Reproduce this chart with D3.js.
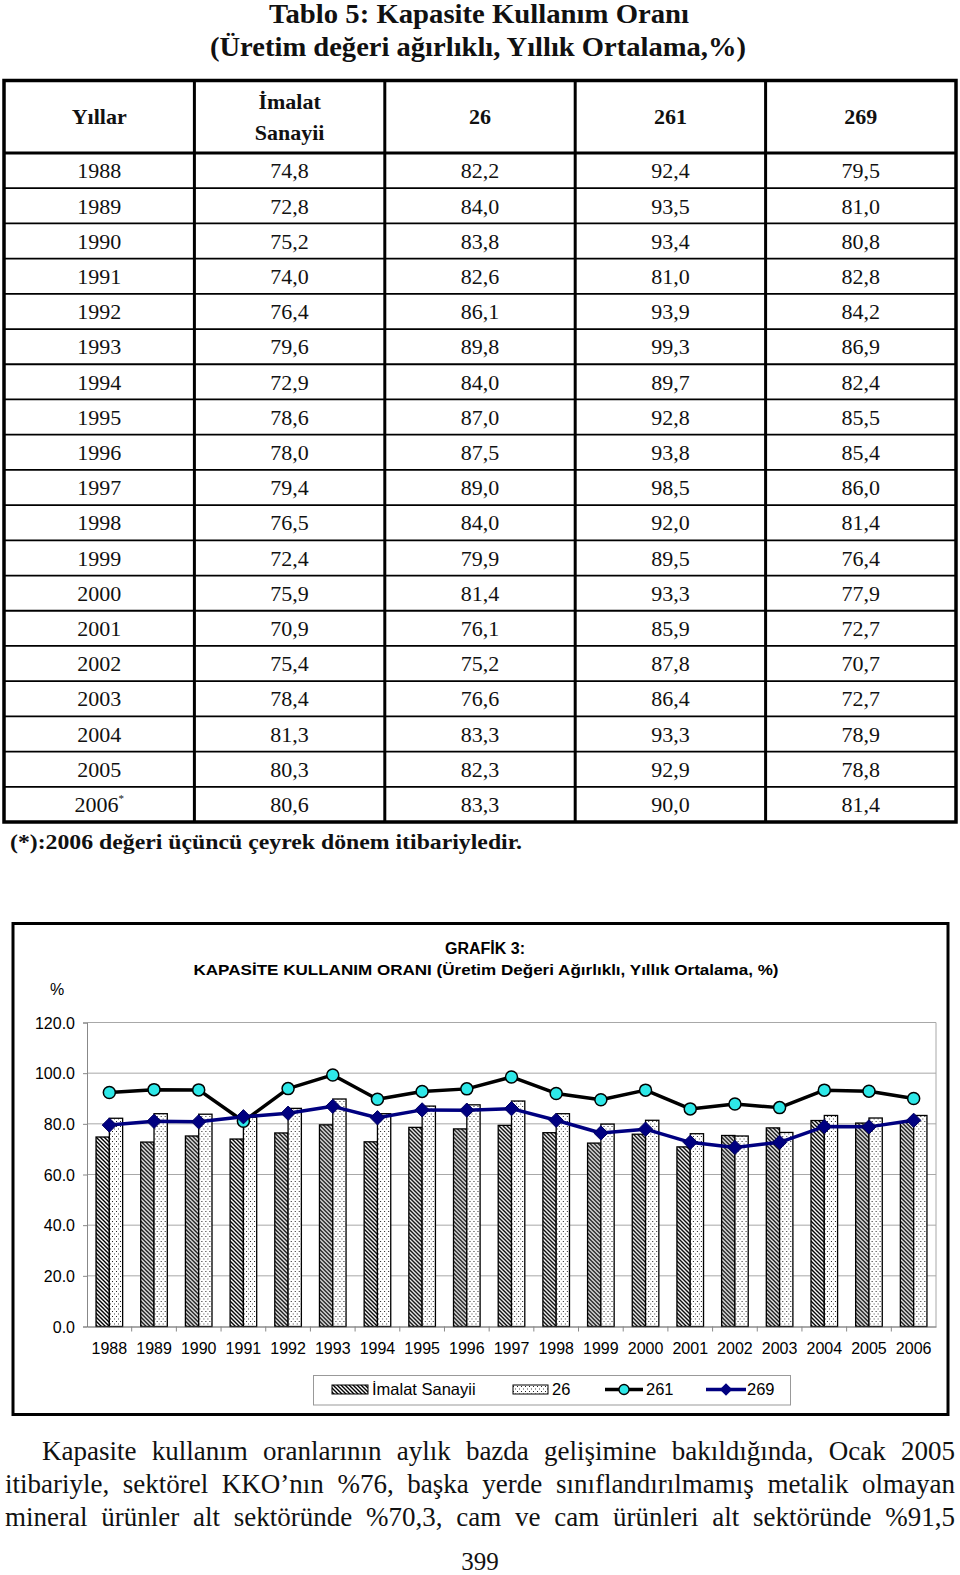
<!DOCTYPE html>
<html lang="tr">
<head>
<meta charset="UTF-8">
<title>Tablo 5: Kapasite Kullanım Oranı</title>
<script src="https://d3js.org/d3.v7.min.js"></script>
<style>
    body { margin: 0; background: #fff; }
    svg { display: block; }
    .serif { font-family: "Liberation Serif", "Times New Roman", serif; fill: #111; }
    .sans { font-family: "Liberation Sans", Arial, sans-serif; fill: #000; }
</style>
</head>
<body>
<svg id="page" width="960" height="1575"></svg>
<script>
const years = ["1988","1989","1990","1991","1992","1993","1994","1995","1996","1997",
               "1998","1999","2000","2001","2002","2003","2004","2005","2006"];
const imalat = [74.8,72.8,75.2,74.0,76.4,79.6,72.9,78.6,78.0,79.4,76.5,72.4,75.9,70.9,75.4,78.4,81.3,80.3,80.6];
const s26    = [82.2,84.0,83.8,82.6,86.1,89.8,84.0,87.0,87.5,89.0,84.0,79.9,81.4,76.1,75.2,76.6,83.3,82.3,83.3];
const s261   = [92.4,93.5,93.4,81.0,93.9,99.3,89.7,92.8,93.8,98.5,92.0,89.5,93.3,85.9,87.8,86.4,93.3,92.9,90.0];
const s269   = [79.5,81.0,80.8,82.8,84.2,86.9,82.4,85.5,85.4,86.0,81.4,76.4,77.9,72.7,70.7,72.7,78.9,78.8,81.4];
const colHeads = ["Yıllar", "İmalat\nSanayii", "26", "261", "269"];
const yTicks = [0, 20, 40, 60, 80, 100, 120];
const legendItems = ["İmalat Sanayii", "26", "261", "269"];

const paragraph = [
    "Kapasite kullanım oranlarının aylık bazda gelişimine bakıldığında, Ocak 2005",
    "itibariyle, sektörel KKO’nın %76, başka yerde sınıflandırılmamış metalik olmayan",
    "mineral ürünler alt sektöründe %70,3, cam ve cam ürünleri alt sektöründe %91,5"
];

const svg = d3.select("#page");
const comma = v => d3.format(".1f")(v).replace(".", ",");

// ---------- patterns ----------
const defs = svg.append("defs");
const hatch = defs.append("pattern").attr("id", "hatch")
    .attr("patternUnits", "userSpaceOnUse").attr("width", 4).attr("height", 4);
hatch.append("rect").attr("width", 4).attr("height", 4).attr("fill", "#fff");
hatch.append("path").attr("d", "M-1,-1L5,5M-1,3L1,5M3,-1L5,1")
    .attr("stroke", "#000").attr("stroke-width", 1.4);
const dots = defs.append("pattern").attr("id", "dots")
    .attr("patternUnits", "userSpaceOnUse").attr("width", 4).attr("height", 5);
dots.append("rect").attr("width", 4).attr("height", 5).attr("fill", "#fff");
dots.append("rect").attr("x", 1).attr("y", 1).attr("width", 1).attr("height", 1).attr("fill", "#222");
dots.append("rect").attr("x", 3).attr("y", 3.5).attr("width", 1).attr("height", 1).attr("fill", "#444");

// ---------- table title ----------
svg.append("text").attr("class", "serif").attr("x", 479).attr("y", 23)
    .attr("text-anchor", "middle").attr("font-size", 27).attr("font-weight", "bold")
    .attr("textLength", 420).attr("lengthAdjust", "spacingAndGlyphs")
    .text("Tablo 5: Kapasite Kullanım Oranı");
svg.append("text").attr("class", "serif").attr("x", 478).attr("y", 56)
    .attr("text-anchor", "middle").attr("font-size", 27).attr("font-weight", "bold")
    .attr("textLength", 536).attr("lengthAdjust", "spacingAndGlyphs")
    .text("(Üretim değeri ağırlıklı, Yıllık Ortalama,%)");

// ---------- table ----------
const tLeft = 4, tRight = 956, tTop = 80.5, headBottom = 153, tBottom = 822;
const colX = d3.scaleBand().domain(d3.range(5)).range([tLeft, tRight]);
const rowY = d3.scaleBand().domain(d3.range(years.length)).range([headBottom, tBottom]);
const table = svg.append("g");

// row lines (thin)
table.selectAll(".rowline").data(d3.range(1, years.length)).join("line")
    .attr("x1", tLeft).attr("x2", tRight)
    .attr("y1", i => rowY(i)).attr("y2", i => rowY(i))
    .attr("stroke", "#000").attr("stroke-width", 1.8);
// header bottom
table.append("line").attr("x1", tLeft).attr("x2", tRight)
    .attr("y1", headBottom).attr("y2", headBottom)
    .attr("stroke", "#000").attr("stroke-width", 3);
// column lines
table.selectAll(".colline").data(d3.range(1, 5)).join("line")
    .attr("x1", i => colX(i)).attr("x2", i => colX(i))
    .attr("y1", tTop).attr("y2", tBottom)
    .attr("stroke", "#000").attr("stroke-width", 3);
table.append("rect").attr("x", tLeft).attr("y", tTop)
    .attr("width", tRight - tLeft).attr("height", tBottom - tTop)
    .attr("fill", "none").attr("stroke", "#000").attr("stroke-width", 3.5);

// header text
colHeads.forEach((h, i) => {
    const parts = h.split("\n");
    const cx = colX(i) + colX.bandwidth() / 2;
    const cy = (tTop + headBottom) / 2;
    parts.forEach((p, k) => {
        table.append("text").attr("class", "serif")
            .attr("x", cx).attr("y", cy + (k - (parts.length - 1) / 2) * 31)
            .attr("dy", "0.35em").attr("text-anchor", "middle")
            .attr("font-size", 22).attr("font-weight", "bold").text(p);
    });
});

// body
const rows = years.map((y, i) => [y, comma(imalat[i]), comma(s26[i]), comma(s261[i]), comma(s269[i])]);
rows.forEach((r, i) => {
    r.forEach((v, j) => {
        const t = table.append("text").attr("class", "serif")
            .attr("x", colX(j) + colX.bandwidth() / 2)
            .attr("y", rowY(i) + rowY.bandwidth() / 2)
            .attr("dy", "0.35em").attr("text-anchor", "middle")
            .attr("font-size", 22).text(v);
        if (j === 0 && i === years.length - 1) {
            t.append("tspan").attr("font-size", 11).attr("dy", "-0.9em").text("*");
        }
    });
});

svg.append("text").attr("class", "serif").attr("x", 10).attr("y", 841)
    .attr("dy", "0.35em").attr("font-size", 22).attr("font-weight", "bold")
    .attr("textLength", 512).attr("lengthAdjust", "spacingAndGlyphs")
    .text("(*):2006 değeri üçüncü çeyrek dönem itibariyledir.");

// ---------- chart ----------
svg.append("rect").attr("x", 13).attr("y", 923.5).attr("width", 935).attr("height", 491)
    .attr("fill", "#fff").attr("stroke", "#000").attr("stroke-width", 3);

svg.append("text").attr("class", "sans").attr("x", 485).attr("y", 948)
    .attr("dy", "0.35em").attr("text-anchor", "middle")
    .attr("font-size", 16).attr("font-weight", "bold").text("GRAFİK 3:");
svg.append("text").attr("class", "sans").attr("x", 486).attr("y", 970)
    .attr("dy", "0.35em").attr("text-anchor", "middle")
    .attr("font-size", 15.5).attr("font-weight", "bold")
    .attr("textLength", 585).attr("lengthAdjust", "spacingAndGlyphs")
    .text("KAPASİTE KULLANIM ORANI (Üretim Değeri Ağırlıklı, Yıllık Ortalama, %)");
svg.append("text").attr("class", "sans").attr("x", 57).attr("y", 989)
    .attr("dy", "0.35em").attr("text-anchor", "middle")
    .attr("font-size", 16).text("%");

const pL = 87, pR = 936, pT = 1022.5, pB = 1326.5;
const x = d3.scaleBand().domain(years).range([pL, pR]).padding(0);
const xs = d3.scaleBand().domain(["imalat", "s26"]).range([0, x.bandwidth()])
    .paddingInner(0).paddingOuter(0.68);
const y = d3.scaleLinear().domain([0, 120]).range([pB, pT]);

const plot = svg.append("g");
// gridlines
plot.selectAll(".grid").data(yTicks.filter(d => d > 0)).join("line")
    .attr("x1", pL).attr("x2", pR).attr("y1", d => y(d)).attr("y2", d => y(d))
    .attr("stroke", "#a8a8a8").attr("stroke-width", 1);
plot.append("line").attr("x1", pR).attr("x2", pR).attr("y1", pT).attr("y2", pB)
    .attr("stroke", "#a8a8a8").attr("stroke-width", 1);

// y axis
const yAxis = plot.append("g").attr("transform", `translate(${pL},0)`)
    .call(d3.axisLeft(y).tickValues(yTicks).tickFormat(d3.format(".1f")).tickSize(4).tickPadding(8));
yAxis.select(".domain").attr("stroke", "#888");
yAxis.selectAll(".tick line").attr("stroke", "#888");
yAxis.selectAll("text").attr("font-family", "Liberation Sans, Arial, sans-serif")
    .attr("font-size", 16).attr("fill", "#000").attr("dy", "0.35em");

// bars
const barData = years.map((yr, i) => ({ yr, imalat: imalat[i], s26: s26[i] }));
const groups = plot.selectAll(".grp").data(barData).join("g")
    .attr("transform", d => `translate(${x(d.yr)},0)`);
groups.append("rect")
    .attr("x", xs("imalat")).attr("width", xs.bandwidth())
    .attr("y", d => y(d.imalat)).attr("height", d => y(0) - y(d.imalat))
    .attr("fill", "url(#hatch)").attr("stroke", "#000").attr("stroke-width", 1.3);
groups.append("rect")
    .attr("x", xs("s26")).attr("width", xs.bandwidth())
    .attr("y", d => y(d.s26)).attr("height", d => y(0) - y(d.s26))
    .attr("fill", "url(#dots)").attr("stroke", "#000").attr("stroke-width", 1.3);

// x axis
const xAxis = plot.append("g").attr("transform", `translate(0,${pB})`)
    .call(d3.axisBottom(x).tickSize(0).tickPadding(16));
xAxis.select(".domain").attr("stroke", "#555").attr("stroke-width", 1.2);
xAxis.selectAll("text").attr("font-family", "Liberation Sans, Arial, sans-serif")
    .attr("font-size", 16).attr("fill", "#000");
plot.selectAll(".xtick").data(years.slice(1)).join("line")
    .attr("x1", d => x(d)).attr("x2", d => x(d))
    .attr("y1", pB).attr("y2", pB + 5).attr("stroke", "#888");

const cx = (d, i) => x(years[i]) + x.bandwidth() / 2;
const line = arr => d3.line().x((d, i) => cx(d, i)).y(d => y(d))(arr);

// 261 line
plot.append("path").attr("d", line(s261)).attr("fill", "none")
    .attr("stroke", "#000").attr("stroke-width", 3.5).attr("stroke-linejoin", "round");
plot.selectAll(".m261").data(s261).join("circle")
    .attr("cx", cx).attr("cy", d => y(d)).attr("r", 6)
    .attr("fill", "#2ee8e8").attr("stroke", "#000").attr("stroke-width", 1.5);

// 269 line
const diamond = d3.symbol().type(d3.symbolDiamond2).size(130);
plot.append("path").attr("d", line(s269)).attr("fill", "none")
    .attr("stroke", "#000080").attr("stroke-width", 3.5).attr("stroke-linejoin", "round");
plot.selectAll(".m269").data(s269).join("path")
    .attr("d", diamond)
    .attr("transform", (d, i) => `translate(${cx(d, i)},${y(d)})`)
    .attr("fill", "#000080").attr("stroke", "#000060").attr("stroke-width", 1);

// legend
const lg = svg.append("g");
lg.append("rect").attr("x", 313.5).attr("y", 1375.5).attr("width", 477).attr("height", 29.5)
    .attr("fill", "#fff").attr("stroke", "#999").attr("stroke-width", 1);
const legY = 1389.5;
lg.append("rect").attr("x", 332).attr("y", legY - 4.5).attr("width", 36).attr("height", 9)
    .attr("fill", "url(#hatch)").attr("stroke", "#000").attr("stroke-width", 1);
lg.append("rect").attr("x", 513).attr("y", legY - 4.5).attr("width", 35).attr("height", 9)
    .attr("fill", "url(#dots)").attr("stroke", "#000").attr("stroke-width", 1);
lg.append("line").attr("x1", 605).attr("x2", 643).attr("y1", legY).attr("y2", legY)
    .attr("stroke", "#000").attr("stroke-width", 3.5);
lg.append("circle").attr("cx", 624).attr("cy", legY).attr("r", 5)
    .attr("fill", "#2ee8e8").attr("stroke", "#000").attr("stroke-width", 1.3);
lg.append("line").attr("x1", 706).attr("x2", 746).attr("y1", legY).attr("y2", legY)
    .attr("stroke", "#000080").attr("stroke-width", 3.5);
lg.append("path").attr("d", d3.symbol().type(d3.symbolDiamond2).size(100))
    .attr("transform", `translate(726,${legY})`).attr("fill", "#000080");
const legX = [372, 552, 646, 747];
legendItems.forEach((t, i) => {
    lg.append("text").attr("class", "sans").attr("x", legX[i]).attr("y", legY)
        .attr("dy", "0.35em").attr("font-size", 16.5).text(t);
});

// ---------- paragraph (justified) ----------
const pFont = 27;
const measure = svg.append("text").attr("class", "serif").attr("font-size", pFont);
const lineStarts = [42, 5, 5];
const lineYs = [1451, 1484, 1517];
paragraph.forEach((ln, k) => {
    const words = ln.split(" ");
    const widths = words.map(w => { measure.text(w); return measure.node().getComputedTextLength(); });
    const total = d3.sum(widths);
    const right = 955;
    let gap = (right - lineStarts[k] - total) / (words.length - 1);
    let scale = 1;
    if (gap < 6) { scale = (right - lineStarts[k] - 6 * (words.length - 1)) / total; gap = 6; }
    let xx = lineStarts[k];
    const t = svg.append("text").attr("class", "serif").attr("font-size", pFont * scale)
        .attr("y", lineYs[k]).attr("dy", "0.35em");
    words.forEach((w, i) => {
        t.append("tspan").attr("x", xx).text(w);
        xx += widths[i] * scale + gap;
    });
});
measure.remove();
svg.append("text").attr("class", "serif").attr("x", 480).attr("y", 1570)
    .attr("text-anchor", "middle").attr("font-size", 25).text("399");
</script>
</body>
</html>
